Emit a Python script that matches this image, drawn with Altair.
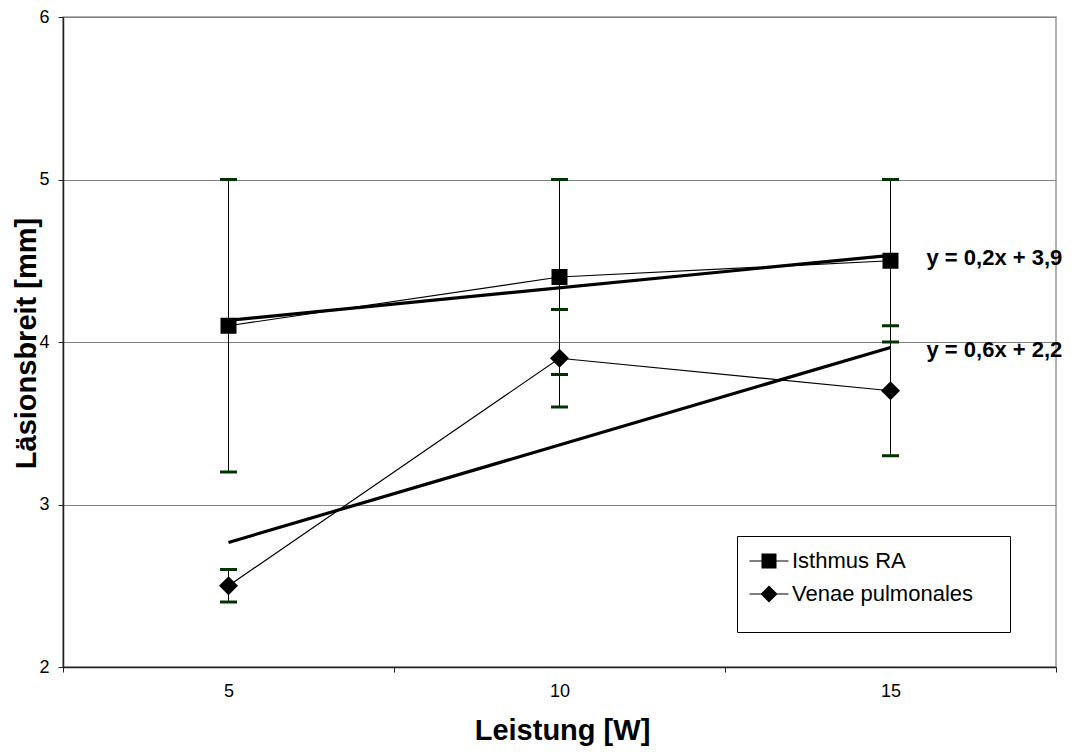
import altair as alt
import pandas as pd

FONT = "Liberation Sans"

# ---- data ----
leistung = [5, 10, 15]
series = ["Isthmus RA", "Venae pulmonales"]
isthmus = [4.1, 4.4, 4.5]
isthmus_err = [0.9, 0.6, 0.5]
venae = [2.5, 3.9, 3.7]
venae_err = [0.1, 0.3, 0.4]
equations = ["y = 0,2x + 3,9", "y = 0,6x + 2,2"]
x_ticks = [2.5, 5, 7.5, 10, 12.5, 15, 17.5]
y_ticks = [2, 3, 4, 5, 6]

rows = []
for s, vals, errs in [(series[0], isthmus, isthmus_err), (series[1], venae, venae_err)]:
    for x, v, e in zip(leistung, vals, errs):
        rows.append({"Serie": s, "Leistung": x, "Wert": v,
                     "low": round(v - e, 3), "high": round(v + e, 3)})
df = pd.DataFrame(rows)
eq_df = pd.DataFrame({"Serie": series, "Gleichung": equations})

x_enc = alt.X(
    "Leistung:Q",
    scale=alt.Scale(domain=[2.5, 17.5], nice=False, zero=False),
    axis=alt.Axis(
        values=x_ticks,
        labelExpr="datum.value % 5 == 0 ? format(datum.value, 'd') : ''",
        title="Leistung [W]",
        grid=False,
        tickSize=5,
        tickColor={"condition": {"test": "datum.value % 5 == 0", "value": "transparent"},
                   "value": "#222222"},
        labelFontSize=18,
        labelPadding=10,
        titleFontSize=29,
        titleFontWeight="bold",
        titleX=499,
        titleY=72,
        titleAlign="center",
        titleBaseline="alphabetic",
    ),
)
y_axis = alt.Axis(
    values=y_ticks,
    format="d",
    title="Läsionsbreit [mm]",
    grid=True,
    gridColor="#808080",
    gridWidth=1,
    tickSize=5,
    labelFontSize=18,
    labelPadding=9,
    titleFontSize=29,
    titleFontWeight="bold",
    titleX=-28,
    titleY=326,
    titleAlign="center",
    titleBaseline="alphabetic",
    titleAngle=270,
)
y_scale = alt.Scale(domain=[2, 6], nice=False, zero=False)


def Y(field):
    return alt.Y(field, scale=y_scale, axis=y_axis)


base = alt.Chart(df)

err_rule = base.mark_rule(color="black", strokeWidth=1).encode(
    x=x_enc, y=Y("low:Q"), y2="high:Q"
)
cap_low = base.mark_tick(color="#003300", opacity=1, thickness=3, size=17,
                         orient="horizontal").encode(x=x_enc, y=Y("low:Q"))
cap_high = base.mark_tick(color="#003300", opacity=1, thickness=3, size=17,
                          orient="horizontal").encode(x=x_enc, y=Y("high:Q"))
lines = base.mark_line(color="black", strokeWidth=1.2).encode(
    x=x_enc, y=Y("Wert:Q"), detail="Serie:N"
)
trend = base.transform_regression(
    "Leistung", "Wert", groupby=["Serie"]
).mark_line(color="black", strokeWidth=3.2).encode(x=x_enc, y=Y("Wert:Q"), detail="Serie:N")

pts_sq = base.transform_filter(alt.datum.Serie == series[0]).mark_point(
    filled=True, color="black", opacity=1, shape="square", size=256
).encode(x=x_enc, y=Y("Wert:Q"))
pts_di = base.transform_filter(alt.datum.Serie == series[1]).mark_point(
    filled=True, color="black", opacity=1, shape="diamond", size=361
).encode(x=x_enc, y=Y("Wert:Q"))

legend_paths = [
    "M-2.05,-0.06H2.05V0.06H-2.05ZM-0.79,-0.79H0.79V0.79H-0.79Z",
    "M-2.05,-0.06H2.05V0.06H-2.05ZM0,-0.9L0.9,0L0,0.9L-0.9,0Z",
]
legend_layer = base.mark_point(filled=True, color="black", opacity=0).encode(
    x=x_enc,
    y=Y("Wert:Q"),
    shape=alt.Shape(
        "Serie:N",
        scale=alt.Scale(domain=series, range=legend_paths),
        legend=alt.Legend(
            title="_" * 44,
            titleColor="white",
            titleOrient="bottom",
            titleFontSize=10,
            titlePadding=3,
            titleLimit=1000,
            orient="none",
            legendX=674,
            legendY=519,
            strokeColor="black",
            fillColor="white",
            padding=14,
            rowPadding=11,
            symbolSize=361,
            symbolOffset=7,
            labelOffset=12,
            labelLimit=1000,
            labelFontSize=22,
            labelFont=FONT,
            labelColor="black",
            symbolStrokeWidth=0,
            symbolFillColor="black",
            symbolOpacity=1,
        ),
    ),
)

eq_text = base.transform_regression(
    "Leistung", "Wert", groupby=["Serie"]
).transform_filter("datum.Leistung > 14").transform_lookup(
    lookup="Serie", from_=alt.LookupData(eq_df, "Serie", ["Gleichung"])
).mark_text(
    align="left", baseline="middle", dx=36, dy=3, font=FONT, fontSize=22,
    fontWeight="bold", color="black"
).encode(x=x_enc, y=Y("Wert:Q"), text="Gleichung:N")

chart = alt.layer(
    err_rule, cap_low, cap_high, lines, trend, pts_sq, pts_di, legend_layer, eq_text
).properties(
    width=993,
    height=650,
    padding={"left": 55, "top": 9, "right": 10, "bottom": 81},
    autosize=alt.AutoSizeParams(type="none"),
    background="white",
).configure_axis(
    labelFont=FONT,
    titleFont=FONT,
    labelColor="black",
    titleColor="black",
    domainColor="#222222",
    domainWidth=1.5,
    tickColor="#222222",
).configure_view(
    stroke="#999999", strokeWidth=1.5
)

chart.save("out.html", embed_options={"renderer": "svg", "actions": False})
